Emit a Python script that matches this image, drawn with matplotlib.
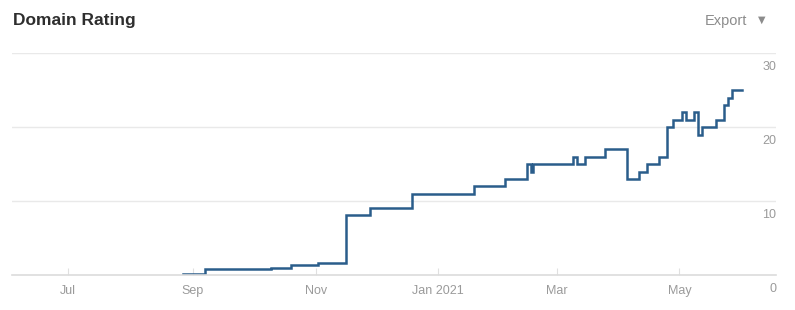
import pandas as pd
import matplotlib
matplotlib.use("Agg")
import matplotlib.pyplot as plt
import matplotlib.transforms as mtransforms

# change points of the Domain Rating (value holds from that day on)
change_dates = ['2020-08-27', '2020-09-07', '2020-10-10', '2020-10-20', '2020-11-02',
                '2020-11-16', '2020-11-28', '2020-12-19', '2021-01-19', '2021-02-03',
                '2021-02-14', '2021-02-16', '2021-02-17', '2021-03-09', '2021-03-11',
                '2021-03-15', '2021-03-25', '2021-04-05', '2021-04-11', '2021-04-15',
                '2021-04-21', '2021-04-25', '2021-04-28', '2021-05-02', '2021-05-04',
                '2021-05-08', '2021-05-10', '2021-05-12', '2021-05-19', '2021-05-23',
                '2021-05-25', '2021-05-27', '2021-06-01']
rating = [0.2, 0.8, 0.9, 1.4, 1.6,
          8.1, 9.1, 11, 12, 13,
          15, 14, 15, 16, 15,
          16, 17, 13, 14, 15,
          16, 20, 21, 22, 21,
          22, 19, 20, 21, 23,
          24, 25, 25]

tick_dates = ['2020-07-01', '2020-09-01', '2020-11-01', '2021-01-01', '2021-03-01', '2021-05-01']
tick_labels = ['Jul', 'Sep', 'Nov', 'Jan 2021', 'Mar', 'May']
y_ticks = [0, 10, 20, 30]

plt.rcParams['font.family'] = ['Liberation Sans', 'DejaVu Sans']

fig = plt.figure(figsize=(7.95, 3.10), dpi=100)
W, H = 795, 310
ax = fig.add_axes([12 / W, (H - 275) / H, (776 - 12) / W, (275 - 53.3) / H])

x = pd.to_datetime(change_dates)
ax.plot(x, rating, drawstyle='steps-post', color='#2a5d8b', lw=1.8, solid_joinstyle='miter')

ax.set_xlim(pd.Timestamp('2020-06-03'), pd.Timestamp('2021-06-18'))
ax.set_ylim(0, 30)

for s in ['top', 'left', 'right']:
    ax.spines[s].set_visible(False)
ax.spines['bottom'].set_color('#dcdcdc')
ax.spines['bottom'].set_linewidth(1.2)

ax.set_yticks(y_ticks)
ax.yaxis.grid(True, color='#e9e9e9', lw=1)
ax.set_axisbelow(True)
ax.tick_params(axis='y', length=0, labelleft=False)

ax.set_xticks(pd.to_datetime(tick_dates))
ax.set_xticklabels(tick_labels)
ax.tick_params(axis='x', direction='in', length=5, color='#e0e0e0', pad=7,
               labelsize=9, labelcolor='#9a9a9a')

trans = mtransforms.blended_transform_factory(ax.transAxes, ax.transData)
for v in y_ticks:
    ax.annotate(str(v), xy=(1.0, v), xycoords=trans, xytext=(0, -5.5),
                textcoords='offset points', ha='right', va='top',
                fontsize=9, color='#9a9a9a')

fig.text(13 / W, 1 - 20 / H, 'Domain Rating', fontsize=12.5, fontweight='bold',
         color='#2e2e2e', ha='left', va='center')
fig.text(747 / W, 1 - 21 / H, 'Export', fontsize=10.5, color='#8c8c8c',
         ha='right', va='center')
fig.text(762 / W, 1 - 20 / H, '\u25BC', fontsize=7, color='#8c8c8c',
         ha='center', va='center', family=['DejaVu Sans'])

fig.savefig('out.png', dpi=100)
